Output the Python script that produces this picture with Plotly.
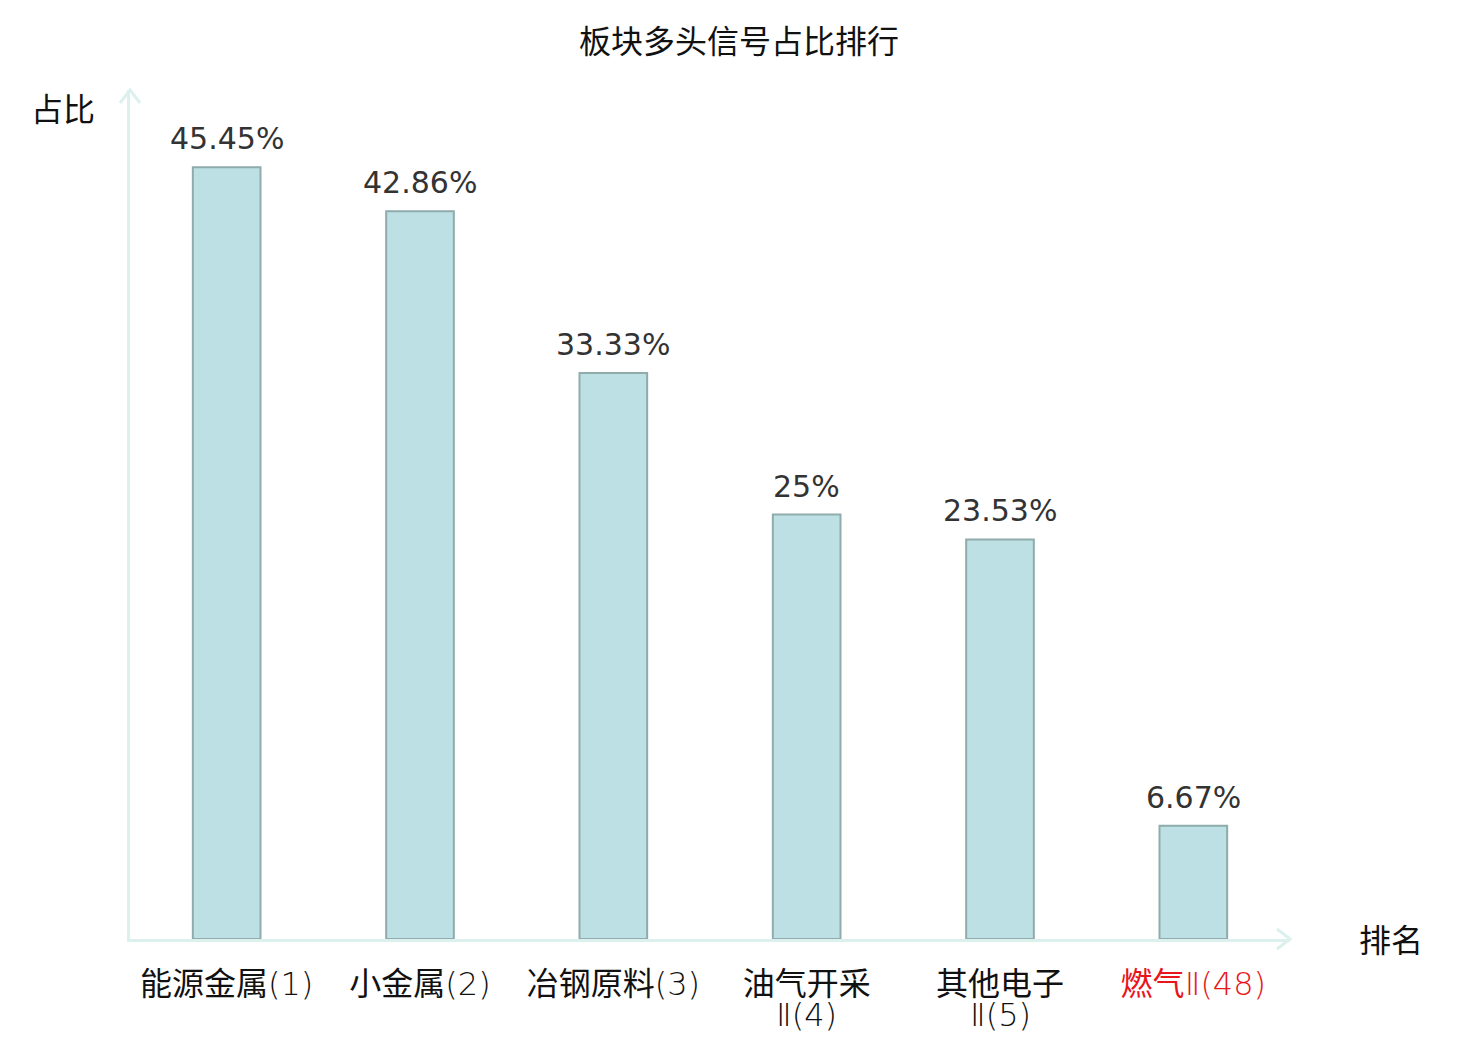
import re
import plotly.graph_objects as go

categories = ["能源金属(1)", "小金属(2)", "冶钢原料(3)", "油气开采<br>Ⅱ(4)", "其他电子<br>Ⅱ(5)", "燃气Ⅱ(48)"]
values = [45.45, 42.86, 33.33, 25, 23.53, 6.67]
value_labels = ["45.45%", "42.86%", "33.33%", "25%", "23.53%", "6.67%"]
highlight = [False, False, False, False, False, True]

FONT = "DejaVu Sans, Noto Sans CJK SC, sans-serif"
AXIS_COLOR = "#dcf0ed"
OX, OY = 8, 8  # page offset of the plot div


def thin_suffix(t):
    return re.sub(r"(Ⅱ?\(\d+\))", r"<span style='font-weight:200'>\1</span>", t)


xs = list(range(len(categories)))
first_lines = [c.split("<br>")[0] for c in categories]
second_lines = [c.split("<br>")[1] if "<br>" in c else "" for c in categories]
label_colors = ["#e8161b" if h else "#111111" for h in highlight]
tick_text = [f"<span style='color:{col}'>{thin_suffix(t)}</span>" for t, col in zip(first_lines, label_colors)]

fig = go.Figure()
fig.add_trace(go.Bar(
    x=xs, y=values,
    width=0.35,
    marker=dict(color="#bce0e3", line=dict(color="#8fabab", width=2)),
))
for x, v, lab in zip(xs, values, value_labels):
    fig.add_annotation(x=x, y=v, text=lab, showarrow=False, yanchor="bottom", yshift=9,
                       font=dict(family=FONT, size=30, color="#333333"))
for x, t, col in zip(xs, second_lines, label_colors):
    if t:
        fig.add_annotation(x=x, y=0, xref="x", yref="paper", text=thin_suffix(t), showarrow=False,
                           yanchor="middle", yshift=-76,
                           font=dict(family=FONT, size=32, color=col))

fig.update_layout(
    width=1480, height=1040,
    margin=dict(l=130 - OX, r=190 + OX, t=90 - OY, b=101 + OY),
    paper_bgcolor="white", plot_bgcolor="white",
    showlegend=False,
    font=dict(family=FONT, size=32, color="#111111"),
    title=dict(text="板块多头信号占比排行", x=(739 - OX) / 1480, xanchor="center",
               y=1 - (42 - OY) / 1040, yanchor="middle",
               font=dict(family=FONT, size=32, color="#111111")),
    xaxis=dict(tickmode="array", tickvals=xs, ticktext=tick_text, range=[-0.5, len(xs) - 0.5],
               showgrid=False, zeroline=False, showline=True, linecolor=AXIS_COLOR, linewidth=3,
               ticks="", ticklabelstandoff=15, automargin=False,
               tickfont=dict(family=FONT, size=32, color="#111111")),
    yaxis=dict(range=[0, 50], showgrid=False, zeroline=False, showline=True, linecolor=AXIS_COLOR,
               linewidth=3, showticklabels=False, ticks="", automargin=False),
)

# axis arrows
fig.add_shape(type="path", xref="paper", yref="paper", xsizemode="pixel", ysizemode="pixel",
              xanchor=0, yanchor=1, path="M -10 -13 L 0 0 L 10 -13",
              line=dict(color=AXIS_COLOR, width=3))
fig.add_shape(type="path", xref="paper", yref="paper", xsizemode="pixel", ysizemode="pixel",
              xanchor=1, yanchor=0, path="M -13 10 L 0 0 L -13 -10",
              line=dict(color=AXIS_COLOR, width=3))

fig.add_annotation(text="占比", xref="paper", yref="paper", x=0, y=1, xshift=-67, yshift=-20,
                   xanchor="center", yanchor="middle",
                   showarrow=False, font=dict(family=FONT, size=32, color="#111111"))
fig.add_annotation(text="排名", xref="paper", yref="paper", x=1, y=0, xshift=101, yshift=-2,
                   xanchor="center", yanchor="middle",
                   showarrow=False, font=dict(family=FONT, size=32, color="#111111"))

fig.write_html("out.html")
